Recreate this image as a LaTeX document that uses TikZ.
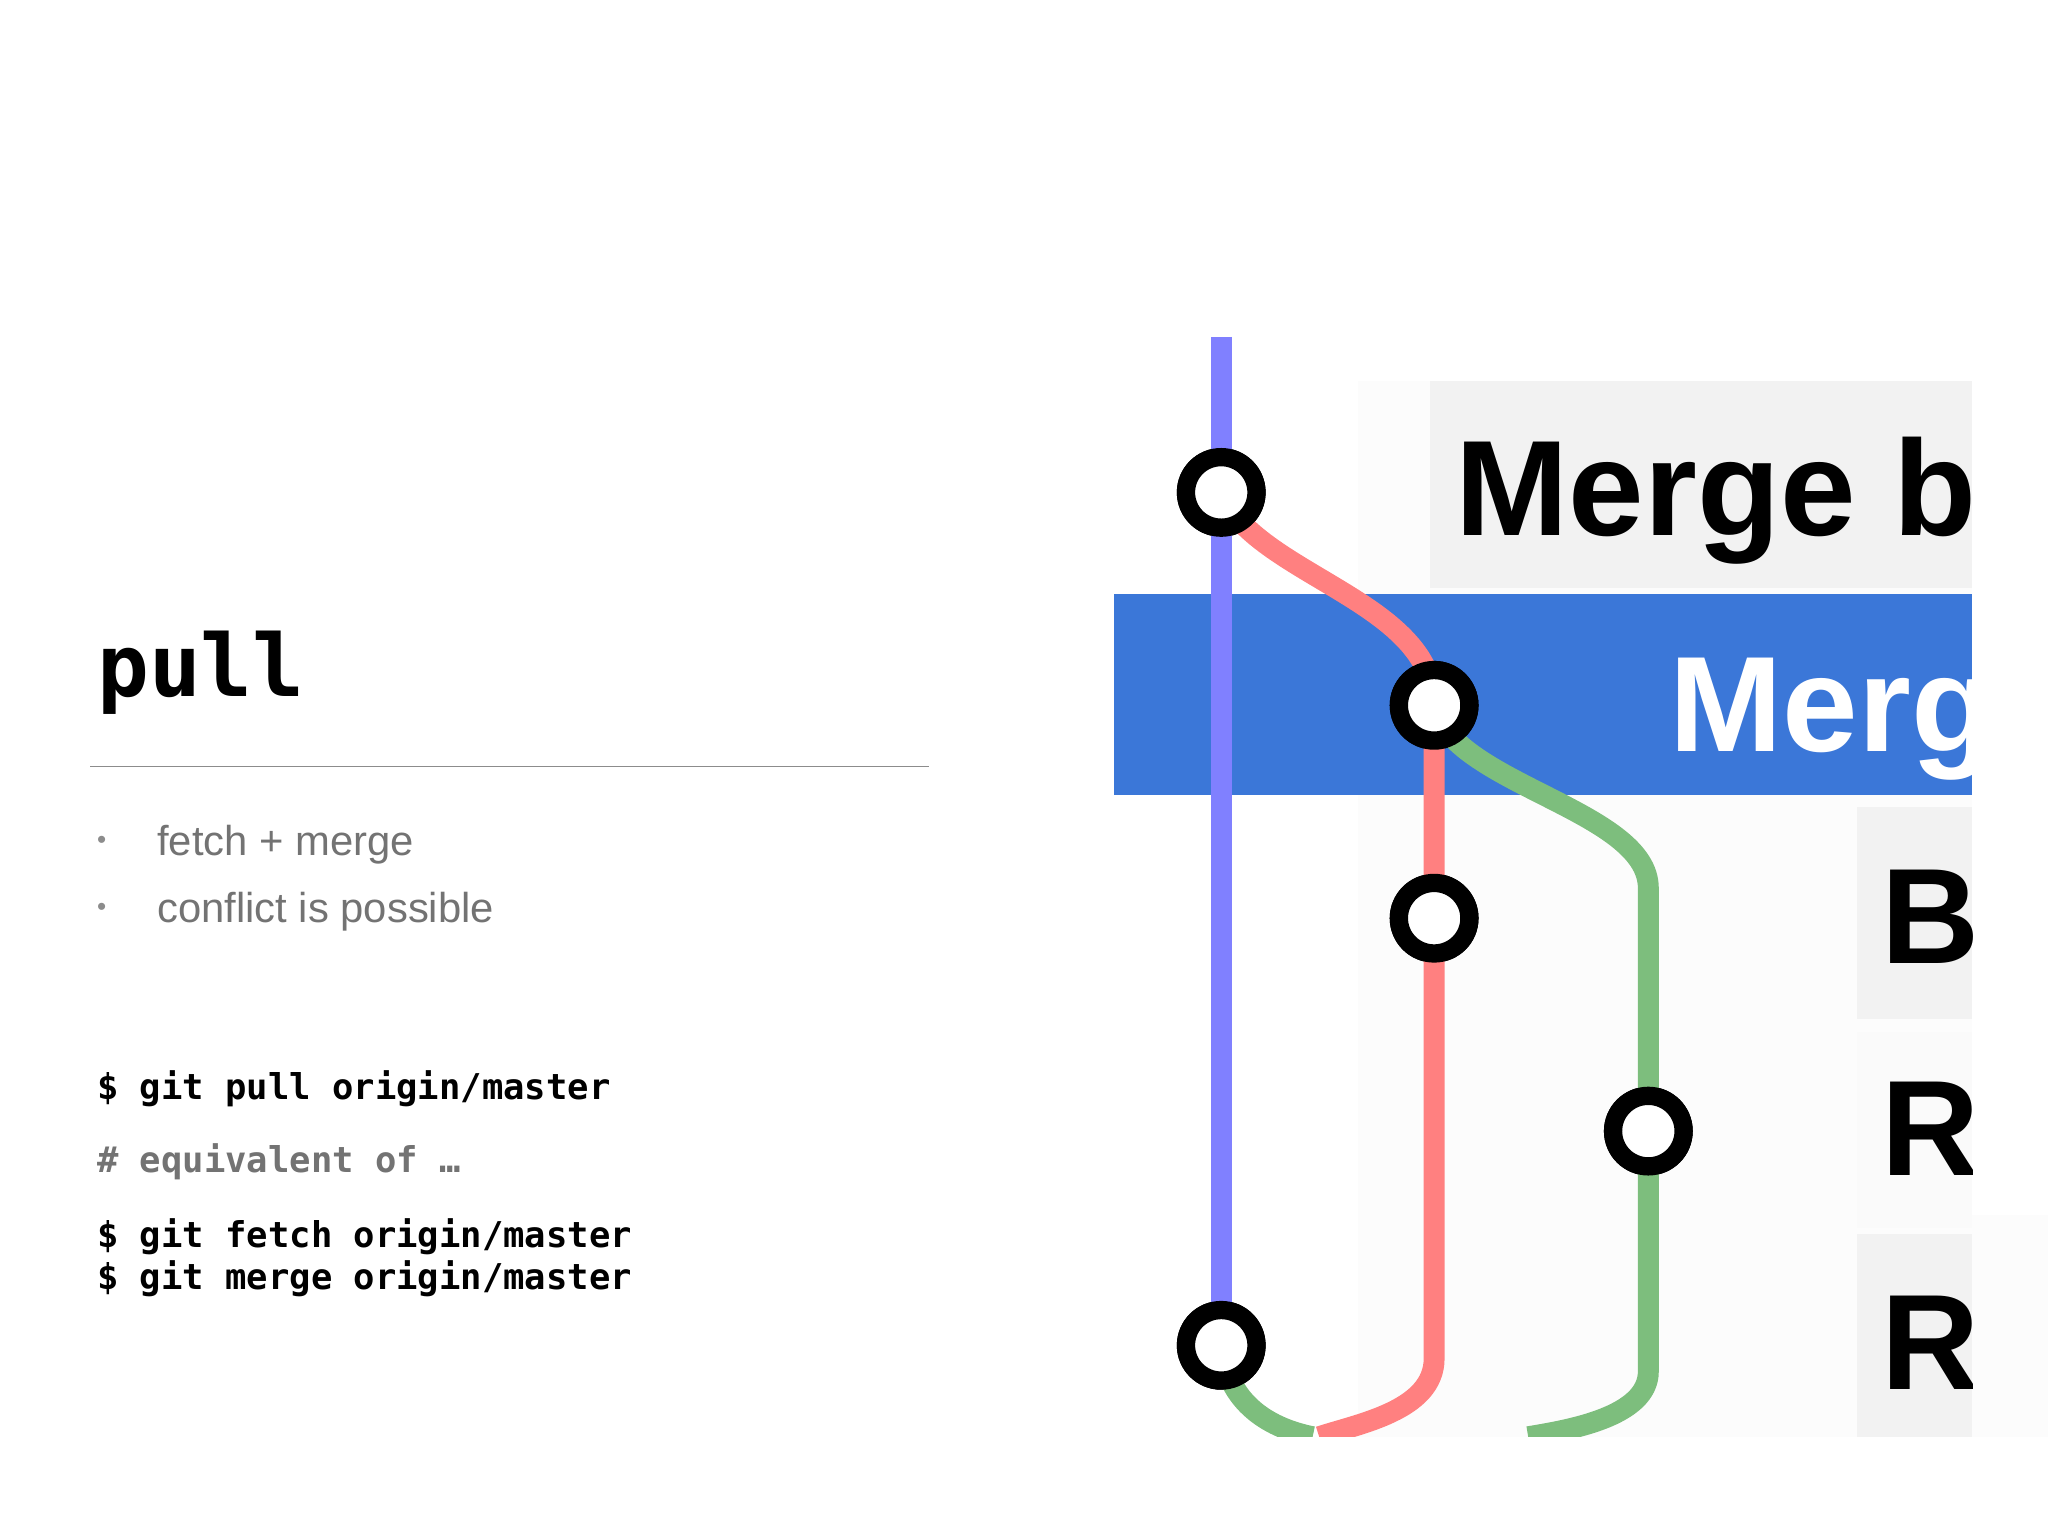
\documentclass[tikz,border=0pt]{standalone}
\usepackage{fontspec}
\setmainfont{Liberation Sans}
\setmonofont{DejaVu Sans Mono}
\newfontfamily\labfont{Liberation Sans}
\begin{document}
\begin{tikzpicture}[x=0.5pt,y=-0.5pt,
  lane/.style={line width=8pt,line cap=butt},
  commit/.style={circle,draw=black,fill=white,line width=7pt,minimum size=27pt,inner sep=0pt},
  code/.style={anchor=base west,inner sep=0pt,font=\ttfamily\bfseries\fontsize{13.6}{16}\selectfont},
  lab/.style={anchor=base west,inner sep=0pt,font=\labfont\bfseries\fontsize{52}{60}\selectfont},
  bul/.style={anchor=base west,inner sep=0pt,text=black!55,font=\fontsize{16}{19}\selectfont}]
\useasboundingbox (0,0) rectangle (1568,1176);
\node[anchor=base west,inner sep=0pt,font=\ttfamily\bfseries\fontsize{33}{36}\selectfont] (title) at (74,533) {pull};
\draw[black!45,line width=0.6pt] (69,587) -- (711,587);
\node[bul,text=black!45,font=\fontsize{10}{12}\selectfont] (d1) at (74,650) {\textbullet};
\node[bul] (b1) at (120,655) {fetch + merge};
\node[bul,text=black!45,font=\fontsize{10}{12}\selectfont] (d2) at (74,701) {\textbullet};
\node[bul] (b2) at (120,706) {conflict is possible};
\node[code] (c1) at (74,842) {\$ git pull origin/master};
\node[code,text=black!55] (c2) at (74,898) {\# equivalent of …};
\node[code] (c3) at (74,955) {\$ git fetch origin/master};
\node[code] (c4) at (74,987) {\$ git merge origin/master};
% right panel
\fill[black!1] (1040,292) rectangle (1510,1100);
\fill[black!1] (1510,930) rectangle (1568,1100);
\fill[black!5] (1095,292) rectangle (1510,450);
\fill[black!5] (1422,618) rectangle (1510,780);
\fill[black!5] (1422,945) rectangle (1510,1100);
\fill[black!2] (1422,790) rectangle (1510,940);
\fill[fill={rgb,255:red,59;green,119;blue,216}] (853,455) rectangle (1510,609);
\begin{scope}
\clip (853,250) rectangle (1510,1100);
\node[lab] (t1) at (1114,410) {Merge b};
\node[lab,text=white] (t2) at (1278,575) {Merg};
\node[lab] (t3) at (1440,738) {Bu};
\node[lab] (t4) at (1440,900) {R};
\node[lab] (t5) at (1440,1064) {R};
\coordinate (top) at (935,258);
\coordinate (rb) at (1010,1100);
\coordinate (gb1) at (1005,1100);
\coordinate (gb2) at (1170,1100);
\node[commit] (n1) at (935,377) {};
\node[commit] (n2) at (1098,540) {};
\node[commit] (n3) at (1098,703) {};
\node[commit] (n4) at (1262,866) {};
\node[commit] (n5) at (935,1030) {};
\draw[lane,color={rgb,255:red,128;green,128;blue,255}] (top) -- (n5.center);
\draw[lane,color={rgb,255:red,255;green,128;blue,128}] (n1.center) .. controls (960,440) and (1098,460) .. (n2.center) -- (1098,1040) .. controls (1098,1080) and (1040,1090) .. (rb);
\draw[lane,color={rgb,255:red,125;green,190;blue,125}] (n2.center) .. controls (1110,600) and (1262,620) .. (1262,680) -- (1262,1050) .. controls (1262,1085) and (1200,1095) .. (gb2);
\draw[lane,color={rgb,255:red,125;green,190;blue,125}] (n5.center) .. controls (940,1080) and (980,1095) .. (gb1);
\foreach \n in {n1,n2,n3,n4,n5} \node[commit] at (\n) {};
\end{scope}
\end{tikzpicture}
\end{document}
